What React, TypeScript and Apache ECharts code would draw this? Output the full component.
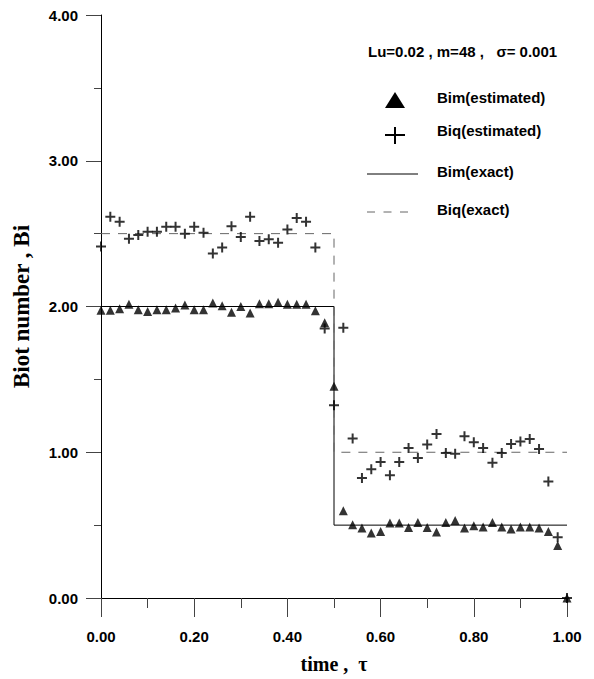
import React, { useEffect, useRef } from "react";
import * as echarts from "echarts";

const tau = [
  0.0, 0.02, 0.04, 0.06, 0.08, 0.1, 0.12, 0.14, 0.16, 0.18,
  0.2, 0.22, 0.24, 0.26, 0.28, 0.3, 0.32, 0.34, 0.36, 0.38,
  0.4, 0.42, 0.44, 0.46, 0.48, 0.5, 0.52, 0.54, 0.56, 0.58,
  0.6, 0.62, 0.64, 0.66, 0.68, 0.7, 0.72, 0.74, 0.76, 0.78,
  0.8, 0.82, 0.84, 0.86, 0.88, 0.9, 0.92, 0.94, 0.96, 0.98, 1.0,
];

const bimEstimated = [
  1.974, 1.974, 1.985, 2.015, 1.978, 1.965, 1.978, 1.978, 1.99, 2.01,
  1.978, 1.978, 2.024, 2.006, 1.96, 2.0, 1.956, 2.019, 2.019, 2.03,
  2.015, 2.015, 2.015, 1.97, 1.888, 1.453, 0.598, 0.503, 0.48, 0.446,
  0.457, 0.514, 0.514, 0.484, 0.518, 0.484, 0.453, 0.518, 0.532, 0.48,
  0.496, 0.487, 0.518, 0.487, 0.473, 0.487, 0.487, 0.48, 0.457, 0.36, 0.0,
];

const biqEstimated = [
  2.411, 2.615, 2.581, 2.465, 2.49, 2.513, 2.513, 2.547, 2.547, 2.499,
  2.547, 2.506, 2.363, 2.404, 2.551, 2.477, 2.615, 2.449, 2.461, 2.438,
  2.529, 2.608, 2.581, 2.404, 1.849, 1.322, 1.854, 1.095, 0.824, 0.883,
  0.933, 0.842, 0.933, 1.03, 0.96, 1.053, 1.125, 0.994, 0.989, 1.109,
  1.068, 1.03, 0.928, 0.994, 1.057, 1.073, 1.091, 1.023, 0.8, 0.416, 0.0,
];

const exactTau = [0, 0.5, 0.5, 1];
const bimExact = [2, 2, 0.5, 0.5];
const biqExact = [2.5, 2.5, 1, 1];

const yTickLabels = ["0.00", "1.00", "2.00", "3.00", "4.00"];
const xTickLabels = ["0.00", "0.20", "0.40", "0.60", "0.80", "1.00"];

const SANS = "'Liberation Sans', Arial, Helvetica, sans-serif";
const SERIF = "'Liberation Serif', 'Times New Roman', serif";
const PLUS = "path://M4,0H6V4H10V6H6V10H4V6H0V4H4Z";

export default function App() {
  const ref = useRef<HTMLDivElement>(null);

  useEffect(() => {
    if (!ref.current) return;
    const chart = echarts.init(ref.current, null, { renderer: "svg" });
    const zip = (xs: number[], ys: number[]) => xs.map((x, i) => [x, ys[i]]);

    const legendText = (text: string, y: number) => ({
      type: "text",
      left: 437,
      top: y - 9,
      style: { text, font: `bold 15px ${SANS}`, fill: "#000" },
    });

    chart.setOption({
      animation: false,
      backgroundColor: "#fff",
      grid: { left: 101, right: 27, top: 15, bottom: 75 },
      xAxis: {
        type: "value",
        min: 0,
        max: 1,
        interval: 0.2,
        axisLine: { onZero: false, lineStyle: { color: "#000", width: 1 } },
        axisTick: { length: 19, lineStyle: { color: "#444", width: 1 } },
        minorTick: { show: true, splitNumber: 2, length: 10, lineStyle: { color: "#444", width: 1 } },
        splitLine: { show: false },
        minorSplitLine: { show: false },
        axisLabel: {
          formatter: (v: number) => xTickLabels[Math.round(v / 0.2)] ?? v.toFixed(2),
          fontFamily: SANS,
          fontWeight: "bold",
          fontSize: 15,
          color: "#000",
          margin: 31,
        },
        name: "time ,  τ",
        nameLocation: "middle",
        nameGap: 56,
        nameTextStyle: { fontFamily: SERIF, fontWeight: "bold", fontSize: 20, color: "#000" },
      },
      yAxis: {
        type: "value",
        min: 0,
        max: 4,
        interval: 1,
        axisLine: { show: true, onZero: false, lineStyle: { color: "#000", width: 1 } },
        axisTick: { show: true, length: 15, lineStyle: { color: "#444", width: 1 } },
        minorTick: { show: true, splitNumber: 2, length: 7, lineStyle: { color: "#444", width: 1 } },
        splitLine: { show: false },
        minorSplitLine: { show: false },
        axisLabel: {
          formatter: (v: number) => yTickLabels[Math.round(v)] ?? v.toFixed(2),
          fontFamily: SANS,
          fontWeight: "bold",
          fontSize: 15,
          color: "#000",
          margin: 23,
        },
        name: "Biot number , Bi",
        nameLocation: "middle",
        nameRotate: 90,
        nameGap: 68,
        nameTextStyle: { fontFamily: SERIF, fontWeight: "bold", fontSize: 23, color: "#000" },
      },
      series: [
        {
          name: "Bim(exact)",
          type: "line",
          data: zip(exactTau, bimExact),
          symbol: "none",
          lineStyle: { color: "#000", width: 1 },
          z: 2,
        },
        {
          name: "Biq(exact)",
          type: "line",
          data: zip(exactTau, biqExact),
          symbol: "none",
          lineStyle: { color: "#666", width: 1, type: [9, 8] },
          z: 2,
        },
        {
          name: "Biq(estimated)",
          type: "scatter",
          data: zip(tau, biqEstimated),
          symbol: PLUS,
          symbolSize: 10,
          clip: false,
          itemStyle: { color: "#000" },
          z: 3,
        },
        {
          name: "Bim(estimated)",
          type: "scatter",
          data: zip(tau, bimEstimated),
          symbol: "triangle",
          symbolSize: 9,
          clip: false,
          itemStyle: { color: "#000" },
          z: 4,
        },
      ],
      graphic: [
        {
          type: "text",
          left: 368,
          top: 44,
          style: { text: "Lu=0.02 , m=48 ,   σ= 0.001", font: `bold 15px ${SANS}`, fill: "#000" },
        },
        {
          type: "polygon",
          shape: { points: [[385, 108], [405, 108], [395, 92]] },
          style: { fill: "#000" },
        },
        legendText("Bim(estimated)", 99),
        { type: "line", shape: { x1: 385, y1: 135, x2: 405, y2: 135 }, style: { stroke: "#000", lineWidth: 2 } },
        { type: "line", shape: { x1: 395, y1: 127, x2: 395, y2: 144 }, style: { stroke: "#000", lineWidth: 2 } },
        legendText("Biq(estimated)", 132),
        { type: "line", shape: { x1: 367, y1: 174, x2: 418, y2: 174 }, style: { stroke: "#000", lineWidth: 1 } },
        legendText("Bim(exact)", 173),
        {
          type: "line",
          shape: { x1: 367, y1: 212, x2: 413, y2: 212 },
          style: { stroke: "#666", lineWidth: 1, lineDash: [8, 8.5] },
        },
        legendText("Biq(exact)", 211),
      ],
    });

    return () => chart.dispose();
  }, []);

  return (
    <div
      ref={ref}
      style={{ position: "absolute", left: 0, top: 0, width: 594, height: 679, background: "#fff" }}
    />
  );
}
